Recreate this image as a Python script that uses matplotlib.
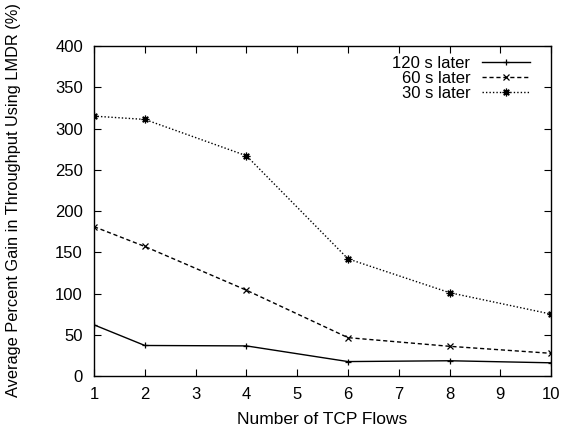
import matplotlib
matplotlib.use("Agg")
import matplotlib.pyplot as plt

plt.rcParams['font.family'] = ['Liberation Sans', 'DejaVu Sans']

flows = [1, 2, 4, 6, 8, 10]
gain_120 = [62, 37, 36.5, 17.5, 18.5, 16]
gain_60 = [181, 157, 104, 46.5, 36, 27.5]
gain_30 = [315, 311, 267, 142, 101, 75]
labels = ["120 s later", "60 s later", "30 s later"]

fig = plt.figure(figsize=(5.7, 4.32), dpi=100)
ax = fig.add_axes([0.165, 0.1296, 0.802, 0.7639])

ax.plot(flows, gain_120, color='black', lw=1.0, ls='-', marker='+', ms=5, mew=0.9, label=labels[0])
ax.plot(flows, gain_60, color='black', lw=1.0, ls=(0, (3, 2)), marker='x', ms=4, mew=0.9, label=labels[1])
ax.plot(flows, gain_30, color='black', lw=1.0, ls=(0, (1, 1.5)), marker=(8, 2, 0), ms=5.5, mew=0.9, label=labels[2])

ax.set_xlim(1, 10)
ax.set_ylim(0, 400)
ax.set_xticks(range(1, 11))
ax.set_yticks(range(0, 401, 50))
ax.tick_params(direction='in', top=True, right=True, length=5, width=0.8, labelsize=12, pad=8)
for s in ax.spines.values():
    s.set_linewidth(1.0)

fig.text(322.5 / 570, 1 - 419 / 432, "Number of TCP Flows", fontsize=12.5, ha='center', va='center')
fig.text(14 / 570, 1 - 200 / 432, "Average Percent Gain in Throughput Using LMDR (%)",
         fontsize=11.8, rotation=90, ha='center', va='center')

leg = ax.legend(loc='upper right', bbox_to_anchor=(0.969, 0.990), frameon=False, markerfirst=False,
                fontsize=12, handlelength=2.9, labelspacing=0.0, borderaxespad=0.0,
                borderpad=0.4, handletextpad=0.7)
for t in leg.get_texts():
    t.set_ha('right')
leg._legend_box.align = 'right'

fig.savefig("out.png", dpi=100)
